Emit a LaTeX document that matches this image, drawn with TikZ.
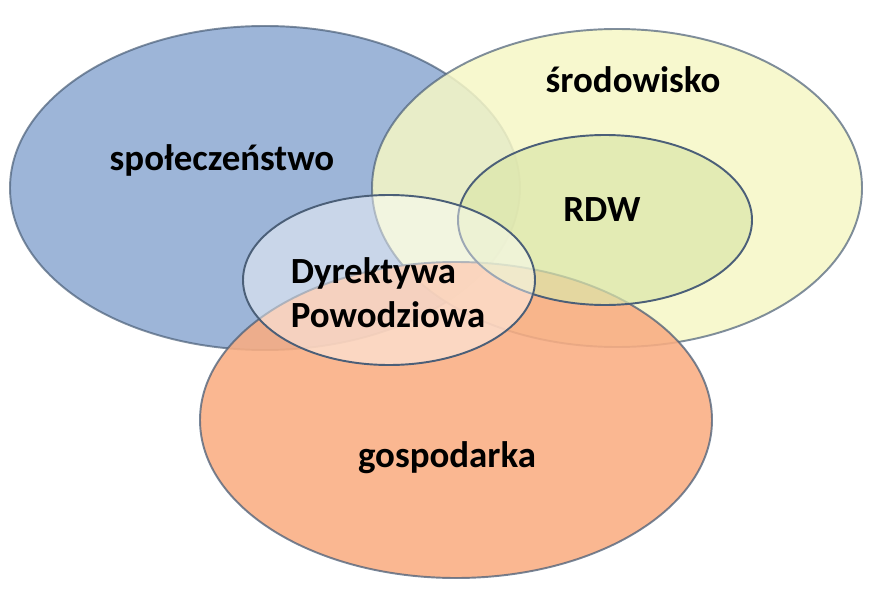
\documentclass[tikz,border=0pt]{standalone}
\usepackage{fontspec}
\setmainfont{Carlito}
\usepackage{xcolor}
\usetikzlibrary{positioning}

\definecolor{spolblue}{HTML}{9DB5D8}
\definecolor{srodyellow}{HTML}{F6F7C6}
\definecolor{gospoorange}{HTML}{F9AD82}
\definecolor{rdwgreen}{HTML}{DCE6AA}
\definecolor{rimgray}{HTML}{4B5F78}

\tikzset{
    rim/.style={draw=rimgray, line width=1.1pt},
    label text/.style={font=\fontsize{21}{25}\selectfont\bfseries, text=black, inner sep=0pt}
}

\begin{document}
\begin{tikzpicture}[x=0.02cm, y=-0.02cm]
    \useasboundingbox (0,0) rectangle (875,588);
    % spoleczenstwo
    \filldraw[rim, fill=spolblue, draw opacity=0.7] (265,188) ellipse [x radius=255, y radius=162];
    % srodowisko
    \filldraw[rim, fill=srodyellow, fill opacity=0.85, draw opacity=0.7] (617,188) ellipse [x radius=245, y radius=159];
    % gospodarka
    \filldraw[rim, fill=gospoorange, fill opacity=0.88, draw opacity=0.75] (456,420) ellipse [x radius=256, y radius=158];
    % RDW
    \filldraw[rim, fill=rdwgreen, fill opacity=0.7] (605,220) ellipse [x radius=147, y radius=85];
    % Dyrektywa Powodziowa
    \filldraw[rim, fill=white, fill opacity=0.45] (389,280) ellipse [x radius=146, y radius=85];

    % texts
    \node[label text] (spol) at (222,160) {społeczeństwo};
    \node[label text] (srod) at (633,80) {środowisko};
    \node[label text] (rdw) at (602,210) {RDW};
    \node[label text, align=left] (dyr) at (388,293) {Dyrektywa\\Powodziowa};
    \node[label text] (gosp) at (447,458) {gospodarka};
\end{tikzpicture}
\end{document}
